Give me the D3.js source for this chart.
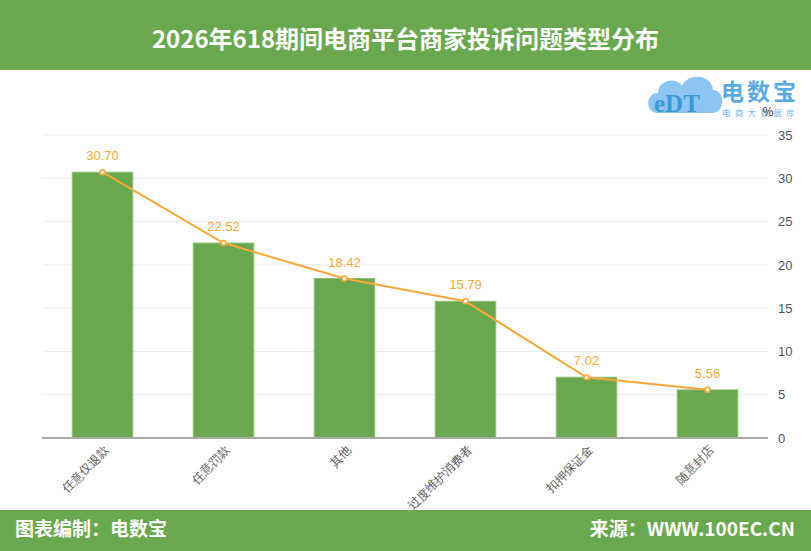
<!DOCTYPE html>
<html>
<head>
<meta charset="utf-8">
<script src="https://cdn.jsdelivr.net/npm/d3@7"></script>
<style>
  body { margin: 0; background: #fff; }
  svg { display: block; font-family: "Microsoft YaHei", "Noto Sans CJK SC", "Liberation Sans", sans-serif; }
</style>
</head>
<body>
<svg id="chart" width="811" height="551"></svg>
<script>
var categories = ["任意仅退款", "任意罚款", "其他", "过度维护消费者", "扣押保证金", "随意封店"];
var values = [30.70, 22.52, 18.42, 15.79, 7.02, 5.56];
var yTicks = [0, 5, 10, 15, 20, 25, 30, 35];

var titleText = "2026年618期间电商平台商家投诉问题类型分布";
var footerLeft = "图表编制：电数宝";
var footerRight = "来源：WWW.100EC.CN";

var W = 811, H = 551;
var green = "#6aa84f", orange = "#f9a93b";

var svg = d3.select("#chart");

// header
svg.append("rect").attr("x", 0).attr("y", 0).attr("width", W).attr("height", 70).attr("fill", green);
svg.append("text").attr("x", W / 2).attr("y", 48)
  .attr("text-anchor", "middle").attr("fill", "#fff")
  .attr("font-size", 24).attr("font-weight", "bold")
  .text(titleText);

// footer
svg.append("rect").attr("x", 0).attr("y", 510).attr("width", W).attr("height", 41).attr("fill", green);
svg.append("text").attr("x", 15).attr("y", 536).attr("fill", "#fff")
  .attr("font-size", 19).attr("font-weight", "bold").text(footerLeft);
svg.append("text").attr("x", 795).attr("y", 536).attr("fill", "#fff")
  .attr("text-anchor", "end").attr("font-size", 19).attr("font-weight", "bold").text(footerRight);

// logo (simplified)
var logo = svg.append("g").attr("transform", "translate(648,76)");
logo.append("path")
  .attr("d", "M10,37 C-3,37 -3,17 10,17 C10,4 28,0 34,10 C40,-4 64,-2 65,14 C77,14 78,37 64,37 Z")
  .attr("fill", "#8ec5f0");
logo.append("text").attr("x", 6).attr("y", 36).attr("font-size", 25).attr("font-weight", "bold")
  .attr("font-family", "Liberation Serif, serif").attr("fill", "#3a9ad9").text("eDT");
logo.append("text").attr("x", 73).attr("y", 24).attr("font-size", 23).attr("font-weight", "bold")
  .attr("letter-spacing", 3).attr("fill", "#5aaae6").text("电数宝");
logo.append("text").attr("x", 74).attr("y", 40).attr("font-size", 8.5)
  .attr("fill", "#7ab8e8").attr("letter-spacing", 4.3).text("电商大数据库");

// scales
var x = d3.scaleBand().domain(categories).range([42, 768]).paddingInner(0.5).paddingOuter(0.25);
var y = d3.scaleLinear().domain([0, 35]).range([438, 135]);

// grid
svg.append("g").selectAll("line").data(yTicks.slice(1)).enter().append("line")
  .attr("x1", 42).attr("x2", 768)
  .attr("y1", function(d) { return y(d); }).attr("y2", function(d) { return y(d); })
  .attr("stroke", "#ebebeb").attr("stroke-width", 1);

// right axis
var yAxis = svg.append("g").attr("transform", "translate(768,0)")
  .call(d3.axisRight(y).tickValues(yTicks).tickSize(0).tickPadding(10));
yAxis.select(".domain").remove();
yAxis.selectAll("text").attr("font-size", 13).attr("fill", "#555")
  .attr("font-family", "Liberation Sans, sans-serif");

svg.append("text").attr("x", 768).attr("y", 116).attr("text-anchor", "middle")
  .attr("font-size", 12).attr("fill", "#333").text("%");

// bars
svg.append("g").selectAll("rect").data(values).enter().append("rect")
  .attr("x", function(d, i) { return x(categories[i]); })
  .attr("width", x.bandwidth())
  .attr("y", function(d) { return y(d); })
  .attr("height", function(d) { return y(0) - y(d); })
  .attr("fill", green)
  .attr("stroke", "#8cc270").attr("stroke-width", 1);

// x axis
var xAxis = svg.append("g").attr("transform", "translate(0,438)")
  .call(d3.axisBottom(x).tickSize(0).tickPadding(8));
xAxis.select(".domain").attr("stroke", "#aaa").attr("stroke-width", 2)
  .attr("d", "M42,0H768");
xAxis.selectAll("text")
  .attr("font-size", 12).attr("fill", "#555")
  .attr("text-anchor", "end")
  .attr("x", 0).attr("y", 0).attr("dy", "0.35em")
  .attr("transform", "translate(4,10) rotate(-45)");

// line
var line = d3.line()
  .x(function(d, i) { return x(categories[i]) + x.bandwidth() / 2; })
  .y(function(d) { return y(d); });
svg.append("path").datum(values).attr("d", line)
  .attr("fill", "none").attr("stroke", orange).attr("stroke-width", 2);

svg.append("g").selectAll("circle").data(values).enter().append("circle")
  .attr("cx", function(d, i) { return x(categories[i]) + x.bandwidth() / 2; })
  .attr("cy", function(d) { return y(d); })
  .attr("r", 2.5).attr("fill", "#fff").attr("stroke", orange).attr("stroke-width", 1.5);

svg.append("g").selectAll("text").data(values).enter().append("text")
  .attr("x", function(d, i) { return x(categories[i]) + x.bandwidth() / 2; })
  .attr("y", function(d) { return y(d) - 12; })
  .attr("text-anchor", "middle").attr("font-size", 13).attr("fill", orange)
  .attr("font-family", "Liberation Sans, sans-serif")
  .text(function(d) { return d.toFixed(2); });
</script>
</body>
</html>
